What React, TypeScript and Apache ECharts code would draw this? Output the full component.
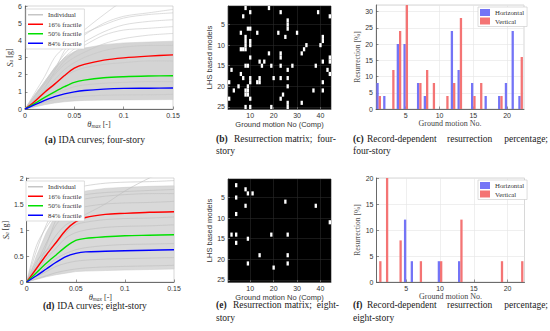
import React, { useEffect, useRef } from 'react';
import * as echarts from 'echarts';

// ---------- data ----------
const THETA = [0, 0.01, 0.02, 0.03, 0.04, 0.05, 0.06, 0.08, 0.1, 0.125, 0.15];

// four-story IDA
const P16_4 = [0, 0.45, 0.98, 1.45, 1.95, 2.38, 2.6, 2.85, 2.98, 3.08, 3.15];
const P50_4 = [0, 0.33, 0.68, 1.0, 1.3, 1.55, 1.68, 1.82, 1.88, 1.92, 1.94];
const P84_4 = [0, 0.25, 0.5, 0.72, 0.88, 1.0, 1.08, 1.16, 1.2, 1.21, 1.22];
const ENV_LO_4 = [0, 0.12, 0.25, 0.35, 0.42, 0.47, 0.5, 0.52, 0.53, 0.54, 0.55];
const ENV_HI_4 = [0, 0.85, 1.6, 2.4, 3.0, 3.35, 3.55, 3.75, 3.85, 3.9, 3.95];
const IND_4 = [
  [0, 0.95, 1.9, 3.0, 3.6, 4.1, 4.6, 5.5, 6.3, 6.8, 7.2],
  [0, 0.8, 1.6, 2.4, 3.2, 3.8, 4.3, 5.0, 5.4, 5.6, 5.8],
  [0, 0.7, 1.5, 2.3, 3.0, 3.5, 3.9, 4.5, 4.9, 5.1, 5.2],
  [0, 0.75, 1.45, 2.1, 2.8, 3.3, 3.7, 4.3, 4.6, 4.7, 4.8],
  [0, 0.6, 1.3, 2.0, 2.6, 3.0, 3.3, 3.8, 4.1, 4.3, 4.4],
  [0, 0.5, 1.1, 1.7, 2.3, 2.7, 3.0, 3.4, 3.6, 3.7, 3.7],
  [0, 0.4, 0.9, 1.4, 1.9, 2.2, 2.4, 2.6, 2.7, 2.8, 2.8],
  [0, 0.3, 0.6, 0.9, 1.1, 1.3, 1.4, 1.5, 1.55, 1.6, 1.6],
  [0, 0.2, 0.4, 0.55, 0.65, 0.7, 0.75, 0.8, 0.82, 0.83, 0.85],
  [0, 0.55, 1.2, 2.2, 3.4, 4.0, 4.4, 4.9, 5.3, 5.5, 5.6],
];

// eight-story IDA
const P16_8 = [0, 0.26, 0.52, 0.76, 1.0, 1.16, 1.24, 1.3, 1.32, 1.34, 1.35];
const P50_8 = [0, 0.18, 0.36, 0.52, 0.68, 0.8, 0.84, 0.87, 0.89, 0.9, 0.91];
const P84_8 = [0, 0.12, 0.25, 0.38, 0.49, 0.55, 0.58, 0.59, 0.6, 0.61, 0.62];
const ENV_LO_8 = [0, 0.05, 0.1, 0.14, 0.17, 0.2, 0.21, 0.22, 0.23, 0.24, 0.25];
const ENV_HI_8 = [0, 0.5, 0.95, 1.3, 1.55, 1.68, 1.75, 1.8, 1.82, 1.84, 1.85];
const IND_8 = [
  [0, 0.6, 1.1, 1.45, 1.7, 1.8, 1.85, 1.9, 1.92, 1.93, 1.95],
  [0, 0.35, 0.75, 1.1, 1.3, 1.4, 1.45, 1.5, 1.52, 1.53, 1.55],
  [0, 0.3, 0.6, 0.9, 1.1, 1.2, 1.3, 1.5, 1.75, 2.0, 2.2],
  [0, 0.7, 1.05, 1.3, 1.45, 1.55, 1.6, 1.65, 1.68, 1.7, 1.7],
  [0, 0.2, 0.45, 0.65, 0.85, 0.95, 1.0, 1.05, 1.07, 1.08, 1.1],
  [0, 0.15, 0.3, 0.45, 0.55, 0.62, 0.66, 0.7, 0.72, 0.73, 0.74],
  [0, 0.1, 0.2, 0.3, 0.36, 0.4, 0.42, 0.44, 0.45, 0.46, 0.47],
  [0, 0.4, 0.6, 0.75, 0.95, 1.1, 1.15, 1.2, 1.22, 1.23, 1.25],
  [0, 0.25, 0.7, 1.2, 1.5, 1.62, 1.68, 1.72, 1.74, 1.76, 1.78],
  [0, 0.06, 0.12, 0.18, 0.22, 0.25, 0.27, 0.29, 0.3, 0.31, 0.32],
];

// resurrection matrices: [ground motion (comp), LHS model]
const MATRIX_4 = [
  [8, 1], [18, 1], [10, 2], [23, 2], [39, 2], [7, 3], [44, 3], [26, 4], [26, 5],
  [9, 6], [10, 6], [26, 6], [6, 7], [13, 7], [22, 7], [30, 7], [8, 8], [25, 8], [41, 8],
  [8, 9], [10, 9], [41, 9], [8, 10], [10, 10], [34, 10], [40, 10],
  [6, 11], [7, 11], [8, 11], [33, 11], [18, 12], [23, 12], [32, 12],
  [10, 13], [23, 13], [44, 13], [14, 14], [16, 14], [41, 14], [44, 14],
  [8, 15], [9, 15], [15, 15], [19, 15], [23, 15], [28, 15], [38, 15],
  [2, 16], [26, 16], [43, 16], [6, 17], [44, 17],
  [7, 18], [10, 18], [14, 18], [20, 18], [23, 18], [26, 18],
  [1, 19], [10, 19], [13, 19], [14, 19], [41, 19], [5, 20], [9, 20], [26, 20],
  [3, 21], [8, 21], [9, 21], [37, 21], [41, 21], [8, 22], [9, 22], [24, 22],
  [1, 23], [10, 23], [23, 23], [26, 24], [32, 24], [8, 25], [10, 25], [19, 25], [26, 25],
];
const MATRIX_8 = [
  [4, 2], [8, 3], [9, 4], [11, 4], [4, 5], [25, 6], [8, 7], [38, 7], [4, 9], [44, 11],
  [2, 14], [4, 14], [19, 14], [26, 14], [9, 15], [4, 16], [14, 19], [26, 19],
  [9, 21], [26, 21], [20, 22],
];

// record-dependent resurrection percentage, ground motions 1..22
const H_4 = [8, 4, 0, 20, 20, 0, 8, 4, 0, 0, 0, 24, 12, 0, 8, 0, 4, 0, 4, 8, 24, 4];
const V_4 = [4, 0, 12, 24, 32, 0, 8, 12, 8, 0, 4, 8, 28, 0, 4, 8, 0, 0, 4, 0, 0, 16];
const H_8 = [0, 0, 0, 0, 12, 4, 0, 0, 0, 4, 0, 0, 4, 0, 0, 0, 0, 0, 0, 0, 0, 0];
const V_8 = [4, 20, 0, 8, 0, 0, 4, 0, 0, 4, 0, 0, 12, 0, 0, 0, 0, 0, 4, 0, 0, 4];

// ---------- styling ----------
const SERIF = "'Liberation Serif', 'DejaVu Serif', serif";
const SANS = "'Liberation Sans', Arial, sans-serif";
const AX = '#4d4d4d';

const pairs = (xs: number[], ys: number[]) => xs.map((x, i) => [x, ys[i]]);

function bandSeries(axis: number, lo: number[], hi: number[], fill: string) {
  return {
    type: 'custom',
    xAxisIndex: axis,
    yAxisIndex: axis,
    silent: true,
    data: [0],
    z: 1,
    renderItem: (_p: any, api: any) => {
      const pts: number[][] = [];
      THETA.forEach((x, i) => pts.push(api.coord([x, hi[i]])));
      for (let i = THETA.length - 1; i >= 0; i--) pts.push(api.coord([THETA[i], lo[i]]));
      return { type: 'polygon', shape: { points: pts }, style: { fill, stroke: '#c8c8c8', lineWidth: 0.5 } };
    },
  };
}

function lineSeries(axis: number, name: string, ys: number[], color: string, width: number, z = 3) {
  return {
    type: 'line',
    name,
    xAxisIndex: axis,
    yAxisIndex: axis,
    data: pairs(THETA, ys),
    symbol: 'none',
    showSymbol: false,
    smooth: 0.3,
    clip: true,
    lineStyle: { color, width },
    itemStyle: { color },
    z,
  };
}

function matrixSeries(axis: number, cells: number[][]) {
  return {
    type: 'custom',
    xAxisIndex: axis,
    yAxisIndex: axis,
    data: cells,
    encode: { x: 0, y: 1 },
    renderItem: (_p: any, api: any) => {
      const c = api.value(0);
      const r = api.value(1);
      const a = api.coord([c - 0.5, r - 0.5]);
      const b = api.coord([c + 0.5, r + 0.5]);
      return {
        type: 'rect',
        shape: {
          x: Math.min(a[0], b[0]),
          y: Math.min(a[1], b[1]),
          width: Math.abs(b[0] - a[0]),
          height: Math.abs(b[1] - a[1]),
        },
        style: { fill: '#ffffff' },
      };
    },
  };
}

function barSeries(axis: number, name: string, vals: number[], color: string) {
  return {
    type: 'bar',
    name,
    xAxisIndex: axis,
    yAxisIndex: axis,
    data: vals.map((v, i) => [i + 1, v]),
    barWidth: 2.3,
    barGap: '0%',
    itemStyle: { color, borderColor: color, borderWidth: 0 },
  };
}

const tickLabel = (ff: string) => ({ fontFamily: ff, fontSize: 7, color: '#333', margin: 3 });
const axisLine = { show: true, lineStyle: { color: AX, width: 0.8 } };
const tickIn = { show: true, inside: true, length: 2.5, lineStyle: { color: AX, width: 0.6 } };

const richName = {
  i: { fontFamily: SERIF, fontStyle: 'italic', fontSize: 8.5, color: '#333' },
  s: { fontFamily: SERIF, fontStyle: 'italic', fontSize: 5.5, color: '#333', verticalAlign: 'bottom', padding: [2, 0, 0, 0] },
  n: { fontFamily: SERIF, fontSize: 8, color: '#333' },
};

function idaX(grid: number) {
  return {
    type: 'value', gridIndex: grid, min: 0, max: 0.15, interval: 0.05,
    axisLine, axisTick: tickIn, axisLabel: tickLabel(SANS), splitLine: { show: false },
    name: '{i|θ}{s|max}{n| [-]}', nameLocation: 'middle', nameGap: 8,
    nameTextStyle: { rich: richName },
  };
}
function idaY(grid: number, max: number, interval: number) {
  return {
    type: 'value', gridIndex: grid, min: 0, max, interval,
    axisLine, axisTick: tickIn, axisLabel: tickLabel(SANS), splitLine: { show: false },
    name: '{i|S}{s|a}{n| [g]}', nameLocation: 'middle', nameGap: 8, nameRotate: 90,
    nameTextStyle: { rich: richName },
  };
}
function matX(grid: number) {
  const vals = [10, 20, 30, 40];
  return {
    type: 'value', gridIndex: grid, min: 0.5, max: 44.5,
    axisLine: { show: true, lineStyle: { color: '#222', width: 0.6 } },
    axisTick: { show: true, inside: true, length: 2, customValues: vals, lineStyle: { color: '#666' } },
    axisLabel: { ...tickLabel(SANS), customValues: vals },
    splitLine: { show: true, lineStyle: { color: '#2a2a2a', width: 0.6 } },
    name: 'Ground motion No (Comp)', nameLocation: 'middle', nameGap: 11,
    nameTextStyle: { fontFamily: SANS, fontSize: 7.5, color: '#333' },
  };
}
function matY(grid: number) {
  const vals = [5, 10, 15, 20, 25];
  return {
    type: 'value', gridIndex: grid, min: 0.5, max: 25.5, inverse: true,
    axisLine: { show: true, lineStyle: { color: '#222', width: 0.6 } },
    axisTick: { show: true, inside: true, length: 2, customValues: vals, lineStyle: { color: '#666' } },
    axisLabel: { ...tickLabel(SANS), customValues: vals },
    splitLine: { show: true, lineStyle: { color: '#2a2a2a', width: 0.6 } },
    name: 'LHS based models', nameLocation: 'middle', nameGap: 10, nameRotate: 90,
    nameTextStyle: { fontFamily: SANS, fontSize: 7.5, color: '#333' },
  };
}
function barX(grid: number) {
  const vals = [5, 10, 15, 20];
  return {
    type: 'value', gridIndex: grid, min: 0.6, max: 22.5,
    axisLine, axisTick: { ...tickIn, customValues: vals },
    axisLabel: { ...tickLabel(SANS), customValues: vals },
    splitLine: { show: true, lineStyle: { color: '#e4e4e4', width: 0.6 } },
    name: 'Ground motion No.', nameLocation: 'middle', nameGap: 10,
    nameTextStyle: { fontFamily: SERIF, fontSize: 8, color: '#444' },
  };
}
function barY(grid: number, max: number) {
  return {
    type: 'value', gridIndex: grid, min: 0, max, interval: 5,
    axisLine, axisTick: tickIn,
    axisLabel: { ...tickLabel(SANS), showMaxLabel: max % 5 === 0 },
    splitLine: { show: true, lineStyle: { color: '#e4e4e4', width: 0.6 } },
    name: 'Resurrection [%]', nameLocation: 'middle', nameGap: 12, nameRotate: 90,
    nameTextStyle: { fontFamily: SERIF, fontSize: 7.5, color: '#555' },
  };
}

const idaLegend = (top: number) => ({
  orient: 'vertical', left: 26, top,
  data: ['Individual', '16% fractile', '50% fractile', '84% fractile'],
  icon: 'rect', itemWidth: 15, itemHeight: 1.5, itemGap: 2,
  padding: [2, 3, 2, 2],
  borderColor: '#c8c8c8', borderWidth: 0.6, backgroundColor: '#ffffff',
  textStyle: { fontFamily: SERIF, fontSize: 6.8, color: '#333', lineHeight: 7.5 },
  selectedMode: false,
});
const barLegend = (top: number) => ({
  orient: 'vertical', left: 478, top,
  data: ['Horizontal', 'Vertical'],
  icon: 'rect', itemWidth: 10, itemHeight: 7, itemGap: 1.5,
  padding: [2, 3, 2, 2],
  borderColor: '#c8c8c8', borderWidth: 0.6, backgroundColor: '#ffffff',
  textStyle: { fontFamily: SERIF, fontSize: 6.8, color: '#333' },
  selectedMode: false,
});

const capStyle = { fontFamily: SERIF, fontSize: 9.5, fill: '#222' };
function word(text: string, x: number, y: number, align = 'left') {
  return {
    type: 'text', x, y,
    style: {
      ...capStyle,
      text, align, verticalAlign: 'middle',
      rich: { b: { fontFamily: SERIF, fontSize: 9.5, fontWeight: 'bold', fill: '#222' } },
    },
  };
}

export default function App() {
  const ref = useRef<HTMLDivElement>(null);
  useEffect(() => {
    if (!ref.current) return;
    const chart = echarts.init(ref.current, null, { renderer: 'svg' });
    const series: any[] = [
      bandSeries(0, ENV_LO_4, ENV_HI_4, '#d4d4d4'),
      ...IND_4.map((ys) => lineSeries(0, 'Individual', ys, '#c6c6c6', 0.6, 2)),
      lineSeries(0, '16% fractile', P16_4, '#ff0000', 1.4),
      lineSeries(0, '50% fractile', P50_4, '#00e000', 1.4),
      lineSeries(0, '84% fractile', P84_4, '#0000ff', 1.4),
      matrixSeries(1, MATRIX_4),
      barSeries(2, 'Horizontal', H_4, '#7474f6'),
      barSeries(2, 'Vertical', V_4, '#f47474'),
      bandSeries(3, ENV_LO_8, ENV_HI_8, '#d9d9d9'),
      ...IND_8.map((ys) => lineSeries(3, 'Individual', ys, '#bdbdbd', 0.6, 2)),
      lineSeries(3, '16% fractile', P16_8, '#ff0000', 1.4),
      lineSeries(3, '50% fractile', P50_8, '#00e000', 1.4),
      lineSeries(3, '84% fractile', P84_8, '#0000ff', 1.4),
      matrixSeries(4, MATRIX_8),
      barSeries(5, 'Horizontal', H_8, '#7474f6'),
      barSeries(5, 'Vertical', V_8, '#f47474'),
    ];
    const gridBox = { show: true, borderColor: '#bdbdbd', borderWidth: 0.6, backgroundColor: '#fff' };
    const matBox = { show: true, borderColor: '#222', borderWidth: 0.6, backgroundColor: '#000' };
    chart.setOption({
      animation: false,
      backgroundColor: '#ffffff',
      grid: [
        { left: 25, top: 6, width: 148, height: 103, ...gridBox },
        { left: 228, top: 6, width: 103, height: 103, ...matBox },
        { left: 376, top: 5, width: 148, height: 104, ...gridBox },
        { left: 25, top: 178, width: 149, height: 104, ...gridBox },
        { left: 228, top: 179, width: 103, height: 103, ...matBox },
        { left: 376.5, top: 178, width: 148, height: 104, ...gridBox },
      ],
      xAxis: [idaX(0), matX(1), barX(2), idaX(3), matX(4), barX(5)],
      yAxis: [idaY(0, 6, 1), matY(1), barY(2, 32), idaY(3, 2, 0.5), matY(4), barY(5, 20)],
      legend: [idaLegend(9), barLegend(7), idaLegend(181), barLegend(180)],
      series,
      graphic: [
        word('{b|(a)} IDA curves; four-story', 95, 140, 'center'),
        word('{b|(b)}', 216, 139), word('Resurrection', 234, 139), word('matrix;', 285, 139), word('four-', 336, 139, 'right'),
        word('story', 216, 151),
        word('{b|(c)}', 353, 139), word('Record-dependent', 367, 139), word('resurrection', 447, 139), word('percentage;', 548, 139, 'right'),
        word('four-story', 353, 151),
        word('{b|(d)} IDA curves; eight-story', 95, 306, 'center'),
        word('{b|(e)}', 216, 305), word('Resurrection', 233, 305), word('matrix;', 284.5, 305), word('eight-', 339, 305, 'right'),
        word('story', 216, 318),
        word('{b|(f)}', 353, 305), word('Record-dependent', 367, 305), word('resurrection', 447, 305), word('percentage;', 548, 305, 'right'),
        word('eight-story', 353, 318),
      ],
    });
    return () => chart.dispose();
  }, []);
  return (
    <div
      ref={ref}
      style={{ position: 'fixed', left: 0, top: 0, width: 550, height: 331, background: '#fff' }}
    />
  );
}
